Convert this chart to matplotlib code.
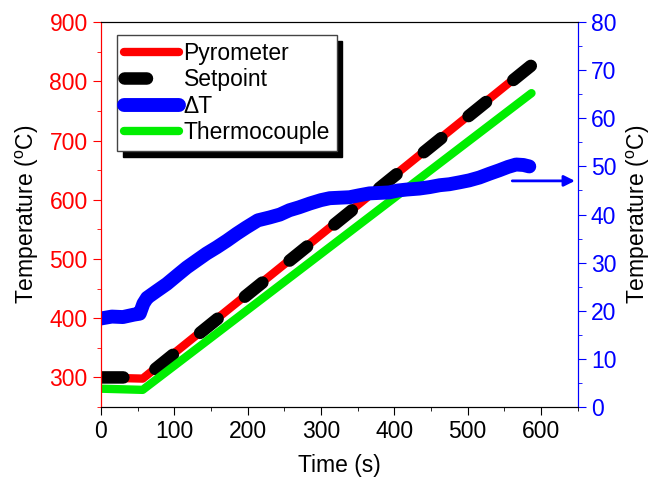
import matplotlib
matplotlib.use("Agg")
import matplotlib.pyplot as plt
from matplotlib.ticker import MultipleLocator

plt.rcParams["font.family"] = ["Liberation Sans", "DejaVu Sans"]
plt.rcParams["mathtext.default"] = "regular"

# Pyrometer, setpoint and thermocouple (left axis, degC)
pyro_t = [0, 25, 57, 587]
pyro_T = [300, 299, 298, 828]
set_t = [0, 60, 587]
set_T = [300, 300, 827]
tc_t = [0, 57, 587]
tc_T = [281, 279, 780]

# Delta T (right axis, degC)
dt_t = [0, 15, 30, 45, 53, 58, 63, 75, 90, 105, 117, 130, 144, 158, 172, 185,
        198, 214, 230, 244, 257, 270, 285, 300, 312, 325, 339, 352, 366, 380,
        393, 405, 417, 434, 448, 462, 475, 489, 502, 516, 530, 543, 555, 566,
        576, 584]
dt_v = [18.4, 18.8, 18.7, 19.2, 19.4, 21.5, 22.7, 24.0, 25.6, 27.5, 29.0,
        30.4, 31.9, 33.2, 34.6, 36.0, 37.3, 38.8, 39.4, 40.0, 40.9, 41.5, 42.3,
        43.0, 43.4, 43.5, 43.6, 44.0, 44.4, 44.5, 44.6, 45.0, 45.2, 45.4, 45.7,
        46.1, 46.3, 46.7, 47.1, 47.7, 48.5, 49.2, 49.9, 50.4, 50.3, 50.0]

fig = plt.figure(figsize=(6.55, 4.80), dpi=100)
ax = fig.add_axes([0.154, 0.152, 0.728, 0.802])
ax2 = ax.twinx()

l1, = ax.plot(pyro_t, pyro_T, color="red", lw=6, solid_capstyle="round")
l2, = ax.plot(set_t, set_T, color="black", lw=9, dash_capstyle="round",
              dashes=(1.8, 2.8))
l4, = ax.plot(tc_t, tc_T, color="#00ee00", lw=6, solid_capstyle="round")
l3, = ax2.plot(dt_t, dt_v, color="blue", lw=10, solid_capstyle="round",
               solid_joinstyle="round")

# arrow pointing at the right-hand axis
ax2.annotate("", xy=(650, 47), xytext=(557, 47),
             arrowprops=dict(arrowstyle="-|>", color="blue", lw=2,
                             mutation_scale=16),
             annotation_clip=False)

ax.set_xlim(0, 650)
ax.set_ylim(250, 900)
ax2.set_ylim(0, 80)

ax.xaxis.set_major_locator(MultipleLocator(100))
ax.xaxis.set_minor_locator(MultipleLocator(50))
ax.yaxis.set_major_locator(MultipleLocator(100))
ax.yaxis.set_minor_locator(MultipleLocator(50))
ax2.yaxis.set_major_locator(MultipleLocator(10))
ax2.yaxis.set_minor_locator(MultipleLocator(5))

fs = 16.5
ax.tick_params(axis="x", which="both", direction="out", labelsize=fs, top=False)
ax.tick_params(axis="x", which="major", length=6)
ax.tick_params(axis="x", which="minor", length=3)
ax.tick_params(axis="y", which="both", colors="red", labelsize=fs)
ax.tick_params(axis="y", which="major", length=6)
ax.tick_params(axis="y", which="minor", length=3)
ax2.tick_params(axis="y", which="both", colors="blue", labelsize=fs)
ax2.tick_params(axis="y", which="major", length=6)
ax2.tick_params(axis="y", which="minor", length=3)

for a in (ax, ax2):
    a.spines["left"].set_color("red")
    a.spines["right"].set_color("blue")
    a.spines["top"].set_color("black")
    a.spines["bottom"].set_color("black")

ax.set_xlabel("Time (s)", fontsize=fs, labelpad=8)
ax.set_ylabel(r"Temperature ($^{o}$C)", fontsize=fs, labelpad=6)
ax2.set_ylabel(r"Temperature ($^{o}$C)", fontsize=fs, labelpad=6)

leg = ax2.legend([l1, l2, l3, l4],
                 ["Pyrometer", "Setpoint", "\u0394T", "Thermocouple"],
                 loc="upper left", bbox_to_anchor=(0.034, 0.966),
                 fontsize=fs, frameon=True, fancybox=False,
                 shadow={"color": "black", "alpha": 1, "ox": 4, "oy": -4},
                 edgecolor="#444444", handlelength=2.4, handletextpad=0.2,
                 borderpad=0.3, labelspacing=0.15, borderaxespad=0)
leg.get_frame().set_linewidth(1)
leg.get_frame().set_alpha(1)

fig.savefig("out.png", dpi=100)
